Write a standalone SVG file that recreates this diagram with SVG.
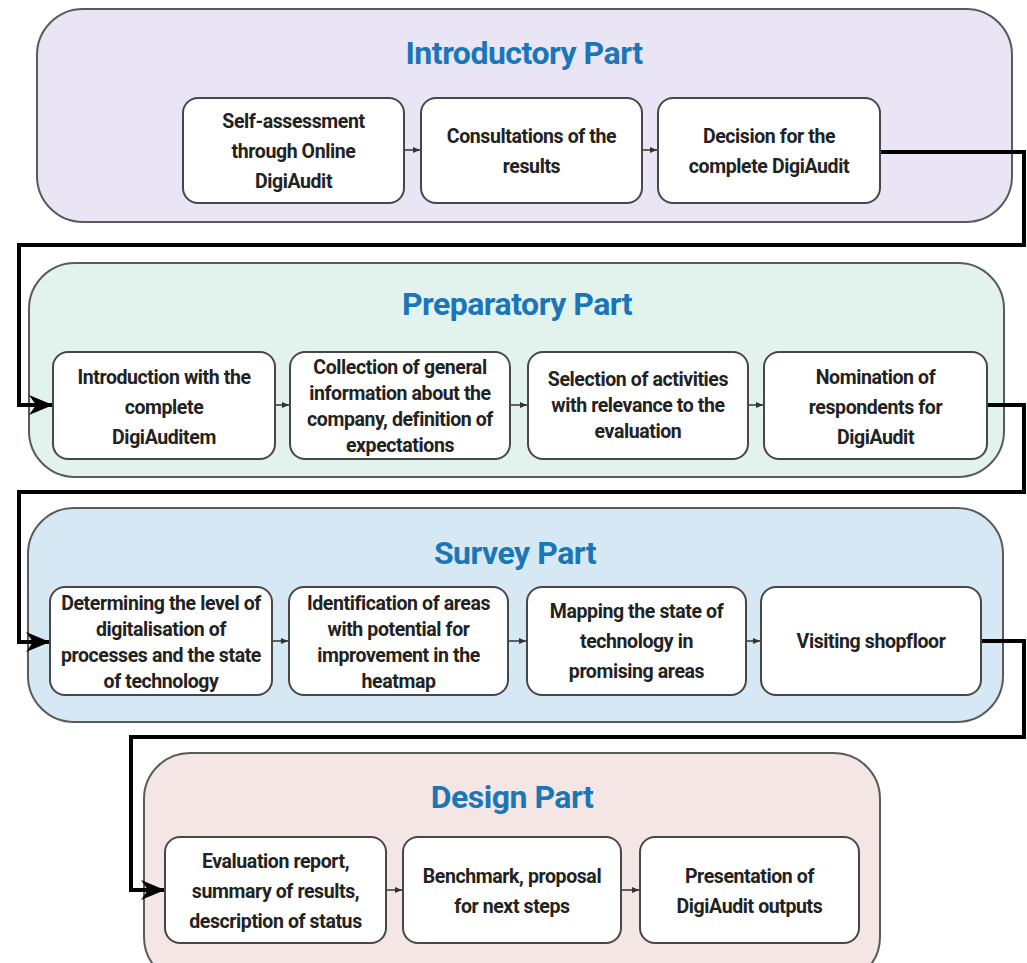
<svg xmlns="http://www.w3.org/2000/svg" width="1027" height="963" viewBox="0 0 1027 963">
<style>
.cont{stroke:#5a5a5a;stroke-width:2}
.box{fill:#ffffff;stroke:#474747;stroke-width:2}
.title{font-family:Roboto,"Liberation Sans",sans-serif;font-weight:700;font-size:32px;fill:#1b76b8;text-anchor:middle;letter-spacing:-0.5px}
.t{font-family:Roboto,"Liberation Sans",sans-serif;font-weight:700;font-size:19.5px;fill:#222222;text-anchor:middle;letter-spacing:-0.4px}
.big{fill:none;stroke:#000000;stroke-width:4;stroke-linejoin:miter}
.small{fill:none;stroke:#333333;stroke-width:1.5}
</style>
<defs>
<marker id="bigArrow" markerUnits="userSpaceOnUse" markerWidth="26" markerHeight="22" refX="24" refY="11" orient="auto">
<path d="M0,1 L24,11 L0,21 L7,11 Z" fill="#000000"/>
</marker>
<marker id="smallArrow" markerUnits="userSpaceOnUse" markerWidth="8" markerHeight="8" refX="7" refY="4" orient="auto">
<path d="M0,1 L7,4 L0,7 Z" fill="#333333"/>
</marker>
</defs>
<rect width="1027" height="963" fill="#ffffff"/>

<g id="introductory-part">
<rect class="cont" x="37" y="9" width="975" height="213" rx="46" fill="#e9e5f5"/>
<text class="title" x="524" y="64">Introductory Part</text>
</g>
<g id="preparatory-part">
<rect class="cont" x="29" y="263" width="975" height="214" rx="46" fill="#e2f2ec"/>
<text class="title" x="517" y="315">Preparatory Part</text>
</g>
<g id="survey-part">
<rect class="cont" x="28" y="508" width="975" height="214" rx="46" fill="#d6e8f3"/>
<text class="title" x="515" y="564">Survey Part</text>
</g>
<g id="design-part">
<rect class="cont" x="144" y="753" width="736" height="230" rx="46" fill="#f5e6e6"/>
<text class="title" x="512" y="808">Design Part</text>
</g>

<g id="connectors">
<path class="big" d="M880,152 H1024 V245 H19 V405 H53" marker-end="url(#bigArrow)"/>
<path class="big" d="M987,405 H1024 V492 H19 V642 H50" marker-end="url(#bigArrow)"/>
<path class="big" d="M981,641 H1024 V737 H131 V890 H165" marker-end="url(#bigArrow)"/>
<path class="small" d="M404,150 H420" marker-end="url(#smallArrow)"/>
<path class="small" d="M642,150 H657" marker-end="url(#smallArrow)"/>
<path class="small" d="M275,405 H289" marker-end="url(#smallArrow)"/>
<path class="small" d="M510,405 H527" marker-end="url(#smallArrow)"/>
<path class="small" d="M748,405 H763" marker-end="url(#smallArrow)"/>
<path class="small" d="M272,641 H288" marker-end="url(#smallArrow)"/>
<path class="small" d="M508,641 H526" marker-end="url(#smallArrow)"/>
<path class="small" d="M746,641 H760" marker-end="url(#smallArrow)"/>
<path class="small" d="M386,890 H402" marker-end="url(#smallArrow)"/>
<path class="small" d="M621,890 H639" marker-end="url(#smallArrow)"/>
</g>

<g id="self-assessment">
<rect class="box" x="183" y="98" width="221" height="105" rx="15"/>
<text class="t" x="293.5" y="128">Self-assessment</text>
<text class="t" x="293.5" y="158">through Online</text>
<text class="t" x="293.5" y="188">DigiAudit</text>
</g>
<g id="consultations">
<rect class="box" x="421" y="98" width="221" height="105" rx="15"/>
<text class="t" x="531.5" y="143">Consultations of the</text>
<text class="t" x="531.5" y="173">results</text>
</g>
<g id="decision">
<rect class="box" x="658" y="98" width="222" height="105" rx="15"/>
<text class="t" x="769" y="143">Decision for the</text>
<text class="t" x="769" y="173">complete DigiAudit</text>
</g>

<g id="introduction">
<rect class="box" x="53" y="352" width="222" height="107" rx="15"/>
<text class="t" x="164" y="384">Introduction with the</text>
<text class="t" x="164" y="414">complete</text>
<text class="t" x="164" y="444">DigiAuditem</text>
</g>
<g id="collection">
<rect class="box" x="290" y="352" width="220" height="107" rx="15"/>
<text class="t" x="400" y="374">Collection of general</text>
<text class="t" x="400" y="400">information about the</text>
<text class="t" x="400" y="426">company, definition of</text>
<text class="t" x="400" y="452">expectations</text>
</g>
<g id="selection">
<rect class="box" x="528" y="352" width="220" height="107" rx="15"/>
<text class="t" x="638" y="386">Selection of activities</text>
<text class="t" x="638" y="412">with relevance to the</text>
<text class="t" x="638" y="438">evaluation</text>
</g>
<g id="nomination">
<rect class="box" x="764" y="352" width="223" height="107" rx="15"/>
<text class="t" x="875.5" y="384">Nomination of</text>
<text class="t" x="875.5" y="414">respondents for</text>
<text class="t" x="875.5" y="444">DigiAudit</text>
</g>

<g id="determining">
<rect class="box" x="50" y="587" width="222" height="108" rx="15"/>
<text class="t" x="161" y="610">Determining the level of</text>
<text class="t" x="161" y="636">digitalisation of</text>
<text class="t" x="161" y="662">processes and the state</text>
<text class="t" x="161" y="688">of technology</text>
</g>
<g id="identification">
<rect class="box" x="289" y="587" width="219" height="108" rx="15"/>
<text class="t" x="398.5" y="610">Identification of areas</text>
<text class="t" x="398.5" y="636">with potential for</text>
<text class="t" x="398.5" y="662">improvement in the</text>
<text class="t" x="398.5" y="688">heatmap</text>
</g>
<g id="mapping">
<rect class="box" x="527" y="587" width="219" height="108" rx="15"/>
<text class="t" x="636.5" y="618">Mapping the state of</text>
<text class="t" x="636.5" y="648">technology in</text>
<text class="t" x="636.5" y="678">promising areas</text>
</g>
<g id="visiting">
<rect class="box" x="761" y="587" width="220" height="108" rx="15"/>
<text class="t" x="871" y="648">Visiting shopfloor</text>
</g>

<g id="evaluation">
<rect class="box" x="165" y="837" width="221" height="106" rx="15"/>
<text class="t" x="275.5" y="868">Evaluation report,</text>
<text class="t" x="275.5" y="898">summary of results,</text>
<text class="t" x="275.5" y="928">description of status</text>
</g>
<g id="benchmark">
<rect class="box" x="403" y="837" width="218" height="106" rx="15"/>
<text class="t" x="512" y="883">Benchmark, proposal</text>
<text class="t" x="512" y="913">for next steps</text>
</g>
<g id="presentation">
<rect class="box" x="640" y="837" width="219" height="106" rx="15"/>
<text class="t" x="749.5" y="883">Presentation of</text>
<text class="t" x="749.5" y="913">DigiAudit outputs</text>
</g>
</svg>
